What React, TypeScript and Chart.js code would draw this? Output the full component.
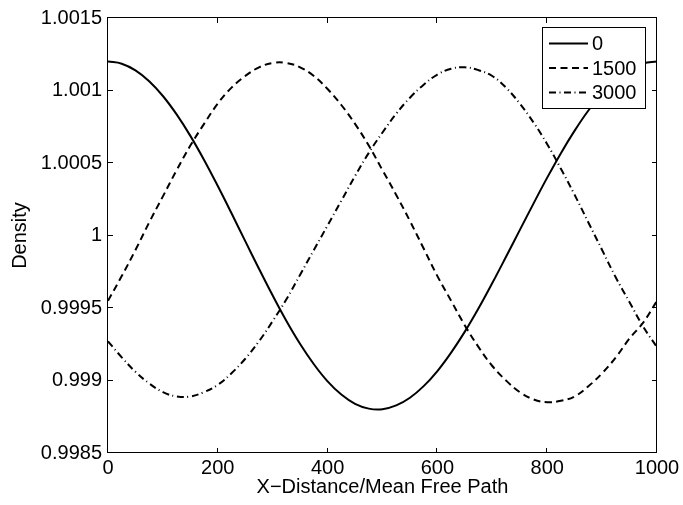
import { useEffect, useRef } from 'react';
import { Chart, registerables } from 'chart.js';

Chart.register(...registerables);

const xValues = [
  0, 25, 50, 75, 100, 125, 150, 175, 200, 225, 250, 275, 300, 325, 350, 375, 400, 425, 450, 475, 500,
  525, 550, 575, 600, 625, 650, 675, 700, 725, 750, 775, 800, 825, 850, 875, 900, 925, 950, 975, 1000,
];

const density0 = [
  1.0012, 1.001185, 1.001139, 1.001064, 1.000962, 1.000835, 1.000687, 1.000521, 1.000341, 1.000153, 0.999961,
  0.999771, 0.999586, 0.999411, 0.999252, 0.999112, 0.998994, 0.998903, 0.998839, 0.998806, 0.998802,
  0.998828, 0.998881, 0.998961, 0.999065, 0.999192, 0.999337, 0.999498, 0.999672, 0.999853, 1.000037,
  1.00022, 1.000399, 1.000568, 1.000723, 1.000862, 1.000979, 1.001074, 1.001143, 1.001186, 1.0012,
];

const density1500 = [
  0.99955, 0.99972, 0.9999, 1.00009, 1.00027, 1.00045, 1.00062, 1.00077, 1.00091, 1.00102, 1.0011,
  1.00116, 1.00119, 1.00119, 1.00116, 1.0011, 1.00101, 1.0009, 1.00077, 1.00062, 1.00045,
  1.00028, 1.0001, 0.99991, 0.99972, 0.99955, 0.99938, 0.99923, 0.9991, 0.999, 0.99892,
  0.99887, 0.99885, 0.99886, 0.99889, 0.99896, 0.99905, 0.99916, 0.99929, 0.9994, 0.99955,
];

const density3000 = [
  0.99927, 0.99916, 0.99906, 0.99898, 0.99892, 0.99889, 0.99889, 0.99892, 0.99897, 0.99905, 0.99915,
  0.99927, 0.99941, 0.99956, 0.99973, 0.9999, 1.00007, 1.00024, 1.00041, 1.00057, 1.00071,
  1.00084, 1.00095, 1.00104, 1.00111, 1.00115, 1.00116, 1.00114, 1.0011, 1.00102, 1.00091,
  1.00078, 1.00063, 1.00046, 1.00028, 1.00009, 0.9999, 0.99971, 0.99954, 0.99937, 0.99923,
];

const seriesLabels = ['0', '1500', '3000'];
const xTickValues = [0, 200, 400, 600, 800, 1000];
const yTickValues = [0.9985, 0.999, 0.9995, 1, 1.0005, 1.001, 1.0015];
const xTitle = 'X\u2212Distance/Mean Free Path';
const yTitle = 'Density';

const FONT_FAMILY = '"Liberation Sans", Arial, Helvetica, sans-serif';
const FONT_SIZE = 20;

const matlabPlugin = {
  id: 'matlabFrame',
  afterDatasetsDraw(chart: any) {
    const { ctx, chartArea } = chart;
    const { left, right, top, bottom } = chartArea;
    const xs = chart.scales.x;
    const ys = chart.scales.y;
    ctx.save();
    ctx.strokeStyle = '#000';
    ctx.lineWidth = 1;
    ctx.setLineDash([]);
    // inward ticks
    ctx.beginPath();
    const tl = 5;
    xTickValues.forEach((v) => {
      const px = Math.round(xs.getPixelForValue(v)) - 0.5;
      ctx.moveTo(px, bottom);
      ctx.lineTo(px, bottom - tl);
      ctx.moveTo(px, top);
      ctx.lineTo(px, top + tl);
    });
    yTickValues.forEach((v) => {
      const py = Math.round(ys.getPixelForValue(v)) - 0.5;
      ctx.moveTo(left, py);
      ctx.lineTo(left + tl, py);
      ctx.moveTo(right, py);
      ctx.lineTo(right - tl, py);
    });
    ctx.stroke();
    // frame
    ctx.strokeRect(left - 0.5, top - 0.5, right - left, bottom - top);

    // legend
    const boxW = 103;
    const boxH = 81;
    const bx = right - 12 - boxW;
    const by = top + 9;
    ctx.fillStyle = '#fff';
    ctx.fillRect(bx, by, boxW, boxH);
    ctx.strokeRect(bx + 0.5, by + 0.5, boxW, boxH);
    ctx.font = `${FONT_SIZE}px ${FONT_FAMILY}`;
    ctx.textBaseline = 'middle';
    ctx.textAlign = 'left';
    chart.data.datasets.forEach((ds: any, i: number) => {
      const cy = by + 16.5 + i * 24.5;
      ctx.save();
      ctx.lineWidth = ds.borderWidth;
      ctx.setLineDash(ds.borderDash || []);
      ctx.beginPath();
      ctx.moveTo(bx + 7, cy);
      ctx.lineTo(bx + 46, cy);
      ctx.stroke();
      ctx.restore();
      ctx.fillStyle = '#000';
      ctx.fillText(ds.label, bx + 50, cy + 1);
    });
    ctx.restore();
  },
};

export default function App() {
  const canvasRef = useRef<HTMLCanvasElement | null>(null);

  useEffect(() => {
    if (!canvasRef.current) return;
    const mk = (vals: number[]) => xValues.map((x, i) => ({ x, y: vals[i] }));
    const common = {
      borderColor: '#000',
      borderWidth: 2,
      pointRadius: 0,
      fill: false,
      tension: 0.4,
    };
    const chart = new Chart(canvasRef.current, {
      type: 'line',
      data: {
        datasets: [
          { ...common, label: seriesLabels[0], data: mk(density0), borderDash: [] },
          { ...common, label: seriesLabels[1], data: mk(density1500), borderDash: [7, 4.5] },
          { ...common, label: seriesLabels[2], data: mk(density3000), borderDash: [7, 3.5, 1, 3.5] },
        ],
      },
      options: {
        animation: false,
        responsive: false,
        maintainAspectRatio: false,
        events: [],
        layout: { padding: { left: 0, right: 26, top: 14, bottom: 0 } },
        plugins: {
          legend: { display: false },
          tooltip: { enabled: false },
        },
        scales: {
          x: {
            type: 'linear',
            min: 0,
            max: 1000,
            grid: { display: false, drawTicks: false },
            border: { display: false },
            afterFit: (s: any) => {
              s.height = 52;
            },
            afterBuildTicks: (s: any) => {
              s.ticks = xTickValues.map((v) => ({ value: v }));
            },
            ticks: {
              autoSkip: false,
              maxRotation: 0,
              padding: 3,
              color: '#000',
              font: { family: FONT_FAMILY, size: FONT_SIZE },
              callback: (v: any) => String(v),
            },
            title: {
              display: true,
              text: xTitle,
              color: '#000',
              font: { family: FONT_FAMILY, size: FONT_SIZE },
              padding: { top: 0, bottom: 6 },
            },
          },
          y: {
            type: 'linear',
            min: 0.9985,
            max: 1.0015,
            grid: { display: false, drawTicks: false },
            border: { display: false },
            afterFit: (s: any) => {
              s.width = 108;
            },
            afterBuildTicks: (s: any) => {
              s.ticks = yTickValues.map((v) => ({ value: v }));
            },
            ticks: {
              autoSkip: false,
              padding: 6,
              color: '#000',
              font: { family: FONT_FAMILY, size: FONT_SIZE },
              callback: (v: any) => String(parseFloat(Number(v).toFixed(4))),
            },
            title: {
              display: true,
              text: yTitle,
              color: '#000',
              font: { family: FONT_FAMILY, size: FONT_SIZE },
              padding: { top: 8, bottom: 0 },
            },
          },
        },
      },
      plugins: [matlabPlugin],
    } as any);
    return () => chart.destroy();
  }, []);

  return (
    <div style={{ position: 'absolute', left: 0, top: 0, width: 683, height: 505, background: '#fff' }}>
      <canvas ref={canvasRef} width={683} height={505} style={{ display: 'block' }} />
    </div>
  );
}
